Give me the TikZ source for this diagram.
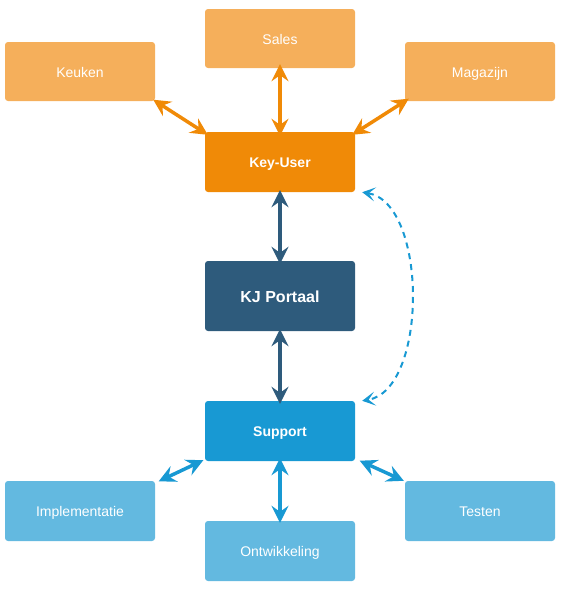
\documentclass[tikz,border=0pt]{standalone}
\usepackage{fontspec}
\setmainfont{Liberation Sans}
\usetikzlibrary{arrows.meta}
\definecolor{lorange}{HTML}{F5AF5B}
\definecolor{dorange}{HTML}{F08A07}
\definecolor{navy}{HTML}{2E5B7C}
\definecolor{sblue}{HTML}{1899D3}
\definecolor{lblue}{HTML}{63B9E0}
\tikzset{
  box/.style={rectangle, rounded corners=3pt, minimum width=150pt, minimum height=60pt, inner sep=0pt, text=white, text height=11.5pt, text depth=0pt, font=\fontsize{14pt}{16pt}\selectfont},
  arr/.style={line width=3.5pt, {Stealth[length=17pt,width=17pt,inset=6pt]}-{Stealth[length=17pt,width=17pt,inset=6pt]}},
  dasharr/.style={line width=2pt, dash pattern=on 6pt off 5pt, sblue, {Stealth[length=13pt,width=14pt,inset=6.5pt]}-{Stealth[length=13pt,width=14pt,inset=6.5pt]}}
}
\begin{document}
\begin{tikzpicture}[x=1pt,y=-1pt]
\useasboundingbox (0,0) rectangle (563,589);
\node[box, fill=lorange, minimum height=59pt] (sales) at (280,38.5) {Sales};
\node[box, fill=lorange, minimum height=59pt] (keuken) at (80,71.5) {Keuken};
\node[box, fill=lorange, minimum height=59pt] (mag) at (480,71.5) {Magazijn};
\node[box, fill=dorange, font=\bfseries\fontsize{14pt}{16pt}\selectfont] (key) at (280,162) {Key-User};
\node[box, fill=navy, minimum height=70pt, text height=12.5pt, font=\bfseries\fontsize{16pt}{18pt}\selectfont] (kj) at (280,296) {KJ Portaal};
\node[box, fill=sblue, font=\bfseries\fontsize{14pt}{16pt}\selectfont] (sup) at (280,431) {Support};
\node[box, fill=lblue] (impl) at (80,511) {Implementatie};
\node[box, fill=lblue] (ontw) at (280,551) {Ontwikkeling};
\node[box, fill=lblue] (test) at (480,511) {Testen};

\draw[arr, dorange] ([yshift=4pt]sales.south) -- ([yshift=-4pt]key.north);
\draw[arr, dorange] ([xshift=-2pt,yshift=1.5pt]keuken.south east) -- ([xshift=3pt,yshift=-3pt]key.north west);
\draw[arr, dorange] ([xshift=4pt,yshift=2.5pt]mag.south west) -- ([xshift=-3pt,yshift=-3pt]key.north east);
\draw[arr, navy] ([yshift=2pt]key.south) -- ([yshift=-3pt]kj.north);
\draw[arr, navy] ([yshift=2pt]kj.south) -- ([yshift=-3pt]sup.north);
\draw[arr, sblue] ([xshift=-1.5pt,yshift=1pt]sup.south west) -- ([xshift=3.5pt,yshift=-0.5pt]impl.north east);
\draw[arr, sblue] ([yshift=3pt]sup.south) -- ([yshift=-2pt]ontw.north);
\draw[arr, sblue] ([xshift=4.5pt,yshift=0.5pt]sup.south east) -- ([xshift=-1pt]test.north west);

\draw[dasharr] ([xshift=7pt]key.south east) .. controls (428,203) and (428,390) .. ([xshift=7pt]sup.north east);
\end{tikzpicture}
\end{document}
